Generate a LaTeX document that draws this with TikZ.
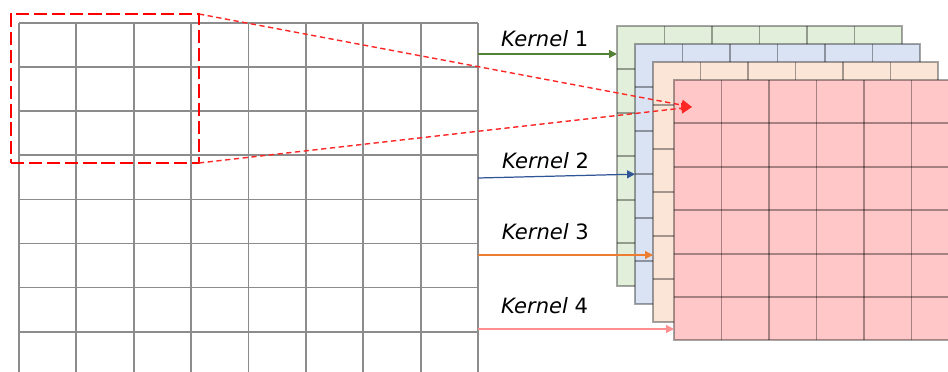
\documentclass[tikz,border=0pt]{standalone}
\usepackage{fontspec}
\setmainfont{DejaVu Sans}
\usetikzlibrary {positioning, arrows.meta}
\definecolor{map-green}{HTML}{E2EFDA}
\definecolor{map-blue}{HTML}{DAE3F3}
\definecolor{map-peach}{HTML}{FBE5D6}
\definecolor{map-pink}{HTML}{FFC7C7}
\definecolor{kernel-green}{HTML}{548235}
\definecolor{kernel-blue}{HTML}{2F5597}
\definecolor{kernel-orange}{HTML}{ED7D31}
\definecolor{kernel-pink}{HTML}{FF8F8F}
\definecolor{grid-gray}{HTML}{8C8C8C}
\newcommand{\drawFeatureMap}[4]{
	\node[featuremap, fill=#3] (#4) at (#1,#2) {};
	\foreach \i in {1,...,5} {
		\draw[mapline] (#1+\i*47.5, #2) -- (#1+\i*47.5, #2+260.4);
		\draw[mapline] (#1, #2+\i*43.4) -- (#1+285, #2+\i*43.4);
	}
}

\begin{document}
\begin{tikzpicture}[x=0.02cm, y=-0.02cm, line width=1pt,
	gridline/.style={draw=grid-gray, line width=1pt},
	featuremap/.style={draw=black, draw opacity=0.35, line width=1.1pt, anchor=north west,
		minimum width=5.7cm, minimum height=5.208cm, inner sep=0pt, outer sep=0pt},
	mapline/.style={draw=black, draw opacity=0.35, line width=1.1pt},
	zoombox/.style={draw=red, line width=1.4pt, dash pattern=on 7.5pt off 2.8pt, anchor=north west,
		minimum width=3.76cm, minimum height=2.98cm, inner sep=0pt, outer sep=0pt},
	zoomline/.style={red!85, line width=0.8pt, dash pattern=on 3pt off 2pt},
	kernel/.style={line width=0.7pt, -{Triangle[length=4.5pt,width=4.5pt]}},
	kernellabel/.style={font=\fontsize{12}{14}\selectfont, inner sep=4pt}]

	\useasboundingbox (0,0) rectangle (948,372);
	\clip (0,0) rectangle (948,372);

	% input image
	\foreach \i in {0,...,8}
		\draw[gridline] (19+\i*57.375, 23) -- (19+\i*57.375, 372);
	\foreach \j in {0,...,7}
		\draw[gridline] (19, 23+\j*44.1) -- (478, 23+\j*44.1);

	% one map per kernel, stacked back to front
	\drawFeatureMap{617}{26}{map-green}{green}
	\drawFeatureMap{635}{44}{map-blue}{blue}
	\drawFeatureMap{653}{62}{map-peach}{peach}
	\drawFeatureMap{674}{80}{map-pink}{pink}

	\coordinate (k1) at (478,54);
	\coordinate (k2) at (478,178);
	\coordinate (k3) at (478,255);
	\coordinate (k4) at (478,329);

	\draw[kernel, kernel-green] (k1) -- (k1 -| green.west)
		node[pos=0.48, above, kernellabel, black] {\textit{Kernel} 1};
	\draw[kernel, kernel-blue] (k2) -- (blue.west)
		node[pos=0.43, above, kernellabel, black] {\textit{Kernel} 2};
	\draw[kernel, kernel-orange] (k3) -- (k3 -| peach.west)
		node[pos=0.385, above=4.2pt, kernellabel, black] {\textit{Kernel} 3};
	\draw[kernel, kernel-pink] (k4) -- (k4 -| pink.west)
		node[pos=0.34, above=4.2pt, kernellabel, black] {\textit{Kernel} 4};

	% receptive field
	\node[zoombox] (patch) at (11,14) {};
	\coordinate (focus) at (692,107);
	\draw[zoomline, -{Triangle[length=6pt,width=6pt]}] (patch.north east) -- (focus);
	\draw[zoomline, -{Triangle[length=6pt,width=6pt]}] (patch.south east) -- (focus);

\end{tikzpicture}
\end{document}
